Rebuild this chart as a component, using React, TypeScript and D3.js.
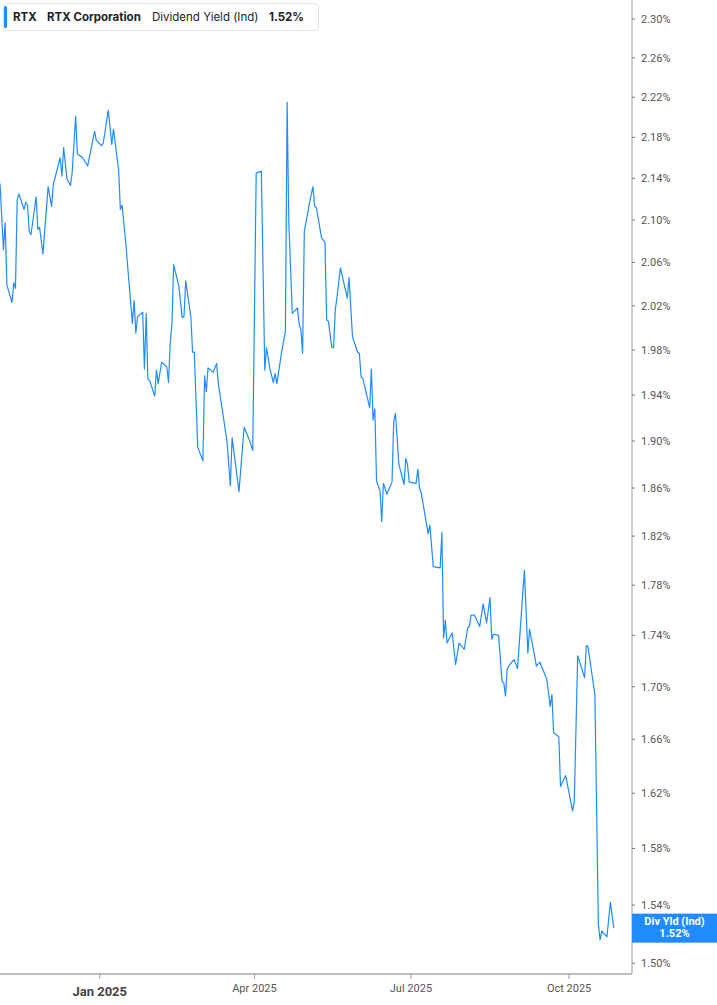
import React from "react";
import * as d3 from "d3";

const W = 717;
const H = 1005;

const dates: string[] = [
  "2024-11-04","2024-11-06","2024-11-07","2024-11-08","2024-11-11","2024-11-12","2024-11-13","2024-11-14","2024-11-15","2024-11-18",
  "2024-11-19","2024-11-20","2024-11-21","2024-11-22","2024-11-25","2024-11-26","2024-11-27","2024-11-29","2024-12-02","2024-12-04",
  "2024-12-05","2024-12-09","2024-12-10","2024-12-11","2024-12-13","2024-12-15","2024-12-16","2024-12-18","2024-12-19","2024-12-22",
  "2024-12-25","2024-12-29","2024-12-30","2025-01-02","2025-01-03","2025-01-06","2025-01-08","2025-01-09","2025-01-12","2025-01-13",
  "2025-01-14","2025-01-16","2025-01-20","2025-01-21","2025-01-22","2025-01-23","2025-01-26","2025-01-27","2025-01-28","2025-01-29",
  "2025-01-30","2025-02-02","2025-02-03","2025-02-04","2025-02-06","2025-02-09","2025-02-10","2025-02-11","2025-02-12","2025-02-13",
  "2025-02-16","2025-02-18","2025-02-19","2025-02-20","2025-02-21","2025-02-23","2025-02-24","2025-02-25","2025-02-27","2025-03-02",
  "2025-03-03","2025-03-04","2025-03-05","2025-03-08","2025-03-10","2025-03-11","2025-03-16","2025-03-18","2025-03-19","2025-03-23",
  "2025-03-26","2025-03-29","2025-03-31","2025-04-02","2025-04-05","2025-04-07","2025-04-08","2025-04-10","2025-04-12","2025-04-13",
  "2025-04-14","2025-04-17","2025-04-19","2025-04-20","2025-04-21","2025-04-23","2025-04-26","2025-04-27","2025-04-28","2025-04-29",
  "2025-04-30","2025-05-03","2025-05-05","2025-05-06","2025-05-07","2025-05-10","2025-05-12","2025-05-13","2025-05-14","2025-05-16",
  "2025-05-17","2025-05-18","2025-05-19","2025-05-21","2025-05-25","2025-05-26","2025-05-28","2025-05-31","2025-06-01","2025-06-02",
  "2025-06-03","2025-06-07","2025-06-08","2025-06-09","2025-06-10","2025-06-11","2025-06-13","2025-06-14","2025-06-15","2025-06-17",
  "2025-06-20","2025-06-21","2025-06-22","2025-06-24","2025-06-27","2025-06-28","2025-06-29","2025-06-30","2025-07-04","2025-07-05",
  "2025-07-06","2025-07-07","2025-07-11","2025-07-12","2025-07-14","2025-07-18","2025-07-19","2025-07-20","2025-07-21","2025-07-22",
  "2025-07-25","2025-07-27","2025-07-29","2025-08-01","2025-08-03","2025-08-04","2025-08-05","2025-08-07","2025-08-10","2025-08-12",
  "2025-08-14","2025-08-16","2025-08-17","2025-08-18","2025-08-21","2025-08-23","2025-08-24","2025-08-25","2025-08-26","2025-08-28",
  "2025-08-30","2025-09-01","2025-09-05","2025-09-07","2025-09-08","2025-09-12","2025-09-14","2025-09-18","2025-09-20","2025-09-21",
  "2025-09-22","2025-09-25","2025-09-26","2025-09-29","2025-10-01","2025-10-03","2025-10-04","2025-10-06","2025-10-10","2025-10-11",
  "2025-10-12","2025-10-16","2025-10-18","2025-10-19","2025-10-20","2025-10-23","2025-10-25","2025-10-27"
];

const yields: number[] = [
  2.135,2.072,2.0975,2.039,2.023,2.041,2.036,2.119,2.125,2.110,
  2.117,2.114,2.089,2.086,2.122,2.091,2.093,2.068,2.132,2.113,
  2.134,2.160,2.142,2.170,2.139,2.133,2.146,2.201,2.164,2.160,
  2.152,2.186,2.177,2.172,2.174,2.207,2.173,2.188,2.148,2.110,
  2.114,2.081,2.004,2.025,1.995,2.010,2.014,1.963,2.013,1.954,
  1.953,1.939,1.962,1.950,1.969,1.965,1.951,1.986,2.003,2.058,
  2.038,2.009,2.010,2.043,2.032,2.010,1.978,1.978,1.895,1.883,
  1.957,1.943,1.964,1.960,1.968,1.950,1.900,1.862,1.903,1.857,
  1.912,1.901,1.892,2.145,2.147,1.962,1.982,1.963,1.951,1.959,
  1.950,1.980,1.997,2.215,2.097,2.013,2.018,2.003,1.998,1.977,
  2.089,2.116,2.132,2.113,2.112,2.083,2.079,2.007,2.006,1.982,
  1.982,2.016,2.028,2.055,2.027,2.046,1.992,1.978,1.977,1.956,
  1.955,1.929,1.963,1.918,1.928,1.866,1.858,1.832,1.864,1.855,
  1.865,1.917,1.924,1.880,1.863,1.885,1.880,1.865,1.864,1.876,
  1.860,1.856,1.822,1.829,1.795,1.794,1.823,1.738,1.752,1.734,
  1.742,1.717,1.734,1.729,1.746,1.747,1.756,1.756,1.747,1.765,
  1.750,1.770,1.737,1.741,1.740,1.704,1.703,1.693,1.714,1.718,
  1.721,1.714,1.792,1.726,1.745,1.716,1.719,1.706,1.685,1.694,
  1.665,1.662,1.625,1.633,1.620,1.607,1.614,1.724,1.707,1.732,
  1.731,1.694,1.527,1.516,1.522,1.518,1.542,1.524
];

const yTicks: number[] = [1.5,1.54,1.58,1.62,1.66,1.7,1.74,1.78,1.82,1.86,1.9,1.94,1.98,2.02,2.06,2.1,2.14,2.18,2.22,2.26,2.3];
const xTickDates: string[] = ["2025-01-01","2025-04-01","2025-07-01","2025-10-01"];
const xTickLabels: string[] = ["Jan 2025","Apr 2025","Jul 2025","Oct 2025"];

const ticker = "RTX";
const company = "RTX Corporation";
const metric = "Dividend Yield (Ind)";
const lastLabel = "1.52%";
const endTag = "Div Yld (Ind)";

const xDomain = ["2024-11-04", "2025-11-06"];
const yDomain = [1.4927, 2.3199];

export default function App() {
  const plotR = 632;
  const plotB = 974;
  const x = d3.scaleUtc().domain(xDomain.map((s) => new Date(s))).range([0, 631]);
  const y = d3.scaleLog().domain(yDomain).range([plotB, 0]);
  const pts = dates.map((d, i) => ({ d: new Date(d), v: yields[i] }));
  const line = d3
    .line<{ d: Date; v: number }>()
    .x((p) => x(p.d))
    .y((p) => y(p.v));
  const font = "Roboto, 'Noto Sans', sans-serif";
  const legendFont = "Inter, Roboto, sans-serif";
  const tagY = y(yields[yields.length - 1]);
  return (
    <svg
      width={W}
      height={H}
      style={{ position: "absolute", left: 0, top: 0, background: "#fff" }}
      fontFamily={font}
    >
      <defs>
        <clipPath id="plotclip">
          <rect x={0} y={0} width={plotR} height={plotB} />
        </clipPath>
      </defs>
      <path
        d={line(pts) || ""}
        fill="none"
        stroke="#1f8bff"
        strokeWidth={1.2}
        strokeLinejoin="round"
        clipPath="url(#plotclip)"
      />
      {/* axes */}
      <line x1={plotR} x2={plotR} y1={0} y2={plotB} stroke="#9a9a9a" strokeWidth={1} />
      <line x1={0} x2={plotR} y1={plotB} y2={plotB} stroke="#a8a8a8" strokeWidth={1.5} />
      {yTicks.map((t) => (
        <g key={t} transform={`translate(${plotR},${y(t)})`}>
          <line x1={0} x2={3} y1={0} y2={0} stroke="#777" strokeWidth={1} />
          <text x={9} y={0} dy="0.35em" fontSize={11} fill="#555">
            {t.toFixed(2) + "%"}
          </text>
        </g>
      ))}
      {xTickDates.map((s, i) => {
        const xx = x(new Date(s));
        const bold = i === 0;
        return (
          <g key={s} transform={`translate(${xx},${plotB})`}>
            <line x1={0} x2={0} y1={0} y2={5} stroke="#999" strokeWidth={1} />
            <text
              x={0}
              y={bold ? 22 : 18}
              textAnchor="middle"
              fontSize={bold ? 13 : 11}
              fontWeight={bold ? 700 : 400}
              fill={bold ? "#444" : "#555"}
            >
              {xTickLabels[i]}
            </text>
          </g>
        );
      })}
      {/* end tag */}
      <rect x={plotR} y={tagY - 14.5} width={W - plotR} height={29} fill="#1f8bff" />
      <text x={(plotR + W) / 2} y={tagY - 3.5} textAnchor="middle" fontSize={11} fontWeight={700} fill="#fff">
        {endTag}
      </text>
      <text x={(plotR + W) / 2} y={tagY + 9} textAnchor="middle" fontSize={11} fontWeight={700} fill="#fff">
        {lastLabel}
      </text>
      {/* legend */}
      <rect x={3.5} y={3.5} width={315} height={27} rx={3} fill="#fff" stroke="#e3e3e3" />
      <rect x={4} y={6} width={3} height={22} rx={1.5} fill="#1f8bff" />
      <text y={21} fontSize={11.5} fill="#222" fontFamily={legendFont}>
        <tspan x={13} fontWeight={700}>{ticker}</tspan>
        <tspan x={47} fontWeight={700}>{company}</tspan>
        <tspan x={152} fontWeight={400}>{metric}</tspan>
        <tspan x={269} fontWeight={700}>{lastLabel}</tspan>
      </text>
    </svg>
  );
}
